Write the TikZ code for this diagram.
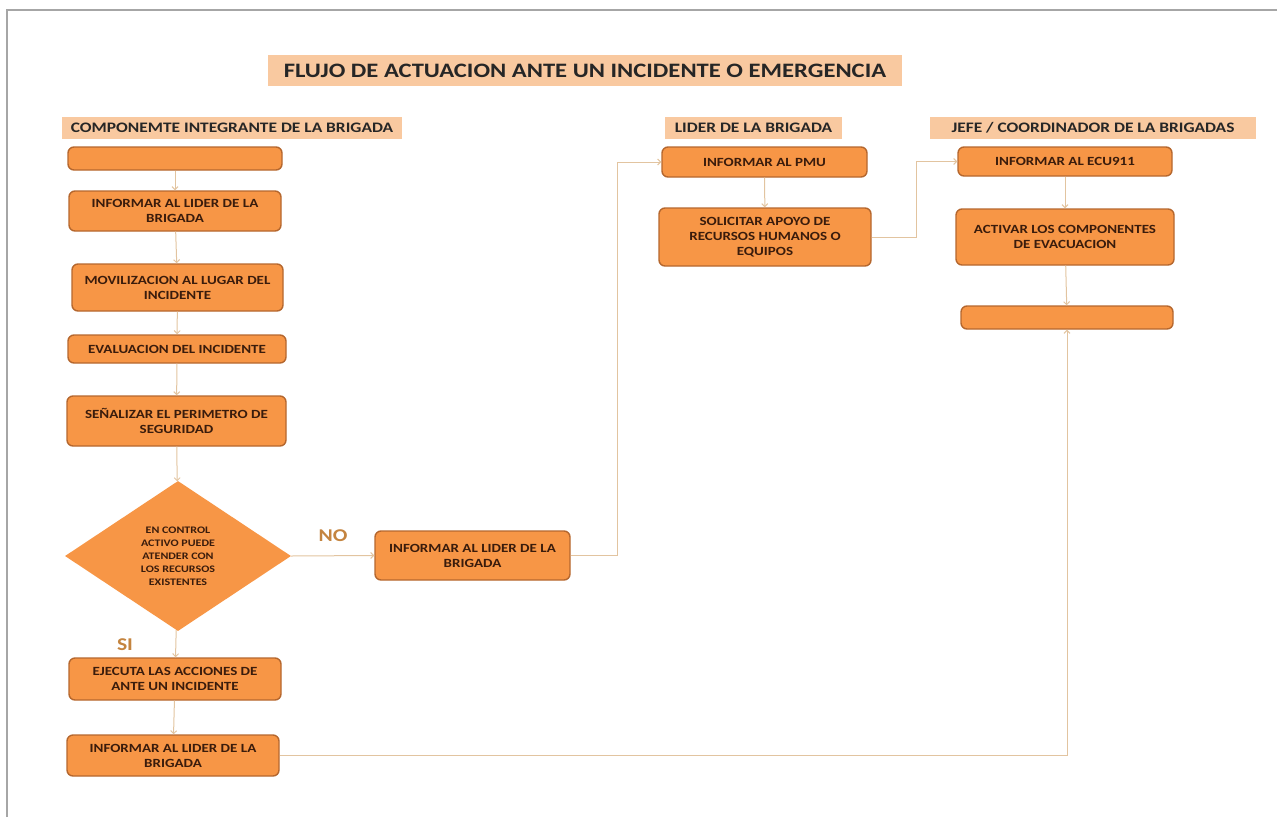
\documentclass[tikz,border=0pt]{standalone}
\usepackage{fontspec}
\setmainfont{Carlito}
\newfontfamily\ancho[FakeStretch=1.2]{Carlito}
\usetikzlibrary{shapes.geometric,arrows.meta}
\definecolor{naranja}{HTML}{F79646}
\definecolor{borde}{HTML}{B5672E}
\definecolor{durazno}{HTML}{F9C9A0}
\definecolor{linea}{HTML}{E2C4A0}
\definecolor{texto}{HTML}{3A1C0C}
\definecolor{etiqueta}{HTML}{C4843F}
\definecolor{marco}{HTML}{A6A6A6}

\begin{document}
\begin{tikzpicture}[x=1pt,y=-1pt,
    caja/.style={draw=borde, line width=1.4pt, fill=naranja, rounded corners=6pt,
      align=center, text=texto, inner sep=2pt,
      font=\ancho\fontsize{12.5}{15}\selectfont\bfseries},
    rotulo/.style={fill=durazno, text=black!85, inner sep=0pt,
      font=\ancho\fontsize{14.5}{16}\selectfont\bfseries},
    decision/.style={shape=diamond, fill=naranja, align=center, text=texto,
      inner sep=0pt, font=\ancho\fontsize{10}{13}\selectfont\bfseries},
    respuesta/.style={text=etiqueta, font=\ancho\fontsize{18}{18}\selectfont\bfseries},
    conector/.style={draw=linea, line width=1pt, -{Straight Barb[length=3pt,width=6pt]}}]
  \useasboundingbox (0,0) rectangle (1277,817);
  \draw[marco, line width=2pt] (7,817) -- (7,10) -- (1277,10);

  \node[rotulo, minimum width=634pt, minimum height=31pt,
    font=\ancho\fontsize{20.5}{22}\selectfont\bfseries] (T) at (585,70.5)
    {FLUJO DE ACTUACION ANTE UN INCIDENTE O EMERGENCIA};
  \node[rotulo, minimum width=340pt, minimum height=22pt] (H1) at (232,128)
    {COMPONEMTE INTEGRANTE DE LA BRIGADA};
  \node[rotulo, minimum width=177pt, minimum height=22pt] (H2) at (753.5,128)
    {LIDER DE LA BRIGADA};
  \node[rotulo, minimum width=326pt, minimum height=22pt] (H3) at (1093,128)
    {JEFE / COORDINADOR DE LA BRIGADAS};

  \node[caja, minimum width=214pt, minimum height=23pt] (A0) at (175,158.5) {};
  \node[caja, minimum width=212pt, minimum height=40pt] (A1) at (175,211)
    {INFORMAR AL LIDER DE LA\\BRIGADA};
  \node[caja, minimum width=211pt, minimum height=47pt] (A2) at (177.5,287.5)
    {MOVILIZACION AL LUGAR DEL\\INCIDENTE};
  \node[caja, minimum width=218pt, minimum height=28pt] (A3) at (177,349)
    {EVALUACION DEL INCIDENTE};
  \node[caja, minimum width=219pt, minimum height=50pt] (A4) at (176.5,421)
    {SEÑALIZAR EL PERIMETRO DE\\SEGURIDAD};
  \node[decision, minimum width=226pt, minimum height=150pt] (D) at (178,556)
    {EN CONTROL\\ACTIVO PUEDE\\ATENDER CON\\LOS RECURSOS\\EXISTENTES};
  \node[caja, minimum width=212pt, minimum height=42pt] (A5) at (175,679)
    {EJECUTA LAS ACCIONES DE\\ANTE UN INCIDENTE};
  \node[caja, minimum width=212pt, minimum height=41pt] (A6) at (173,755.5)
    {INFORMAR AL LIDER DE LA\\BRIGADA};
  \node[caja, minimum width=195pt, minimum height=49pt] (A7) at (472.5,555.5)
    {INFORMAR AL LIDER DE LA\\BRIGADA};
  \node[respuesta] (NO) at (333,536) {NO};
  \node[respuesta] (SI) at (125,645) {SI};

  \node[caja, minimum width=205pt, minimum height=30pt] (B1) at (764.5,162)
    {INFORMAR AL PMU};
  \node[caja, minimum width=212pt, minimum height=58pt] (B2) at (765,237)
    {SOLICITAR APOYO DE\\RECURSOS HUMANOS O\\EQUIPOS};

  \node[caja, minimum width=214pt, minimum height=29pt] (C1) at (1065,161.5)
    {INFORMAR AL ECU911};
  \node[caja, minimum width=218pt, minimum height=56pt] (C2) at (1065,237)
    {ACTIVAR LOS COMPONENTES\\DE EVACUACION};
  \node[caja, minimum width=212pt, minimum height=23pt] (C3) at (1067,317.5) {};

  \coordinate (v1) at (617,0);
  \coordinate (v2) at (916,0);

  \draw[conector] (A0) -- (A1);
  \draw[conector] (A1) -- (A2);
  \draw[conector] (A2) -- (A3);
  \draw[conector] (A3) -- (A4);
  \draw[conector] (A4) -- (D);
  \draw[conector] (D) -- (A5);
  \draw[conector] (A5) -- (A6);
  \draw[conector] (D.east) -- (A7.west);
  \draw[conector] (A7.east) -- (A7.east -| v1) |- (B1.west);
  \draw[conector] (B1) -- (B2);
  \draw[conector] (B2.east) -- (B2.east -| v2) |- (C1.west);
  \draw[conector] (C1) -- (C2);
  \draw[conector] (C2) -- (C3);
  \draw[conector] (A6.east) -| (C3.south);
\end{tikzpicture}
\end{document}
